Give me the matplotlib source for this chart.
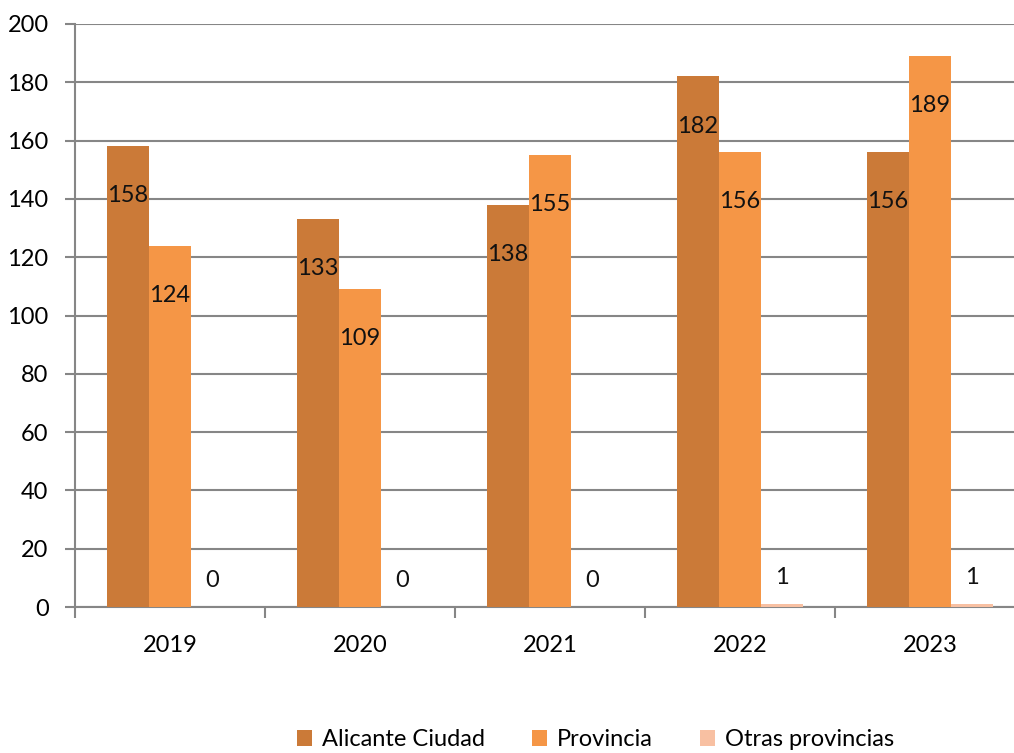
import numpy as np
import matplotlib.pyplot as plt

plt.rcParams['font.family'] = ['Lato', 'DejaVu Sans']
plt.rcParams['font.size'] = 17

# data
years = ['2019', '2020', '2021', '2022', '2023']
alicante = [158, 133, 138, 182, 156]
provincia = [124, 109, 155, 156, 189]
otras = [0, 0, 0, 1, 1]
series_names = ['Alicante Ciudad', 'Provincia', 'Otras provincias']
colors = ['#CB7A38', '#F59646', '#F8C0A2']

fig = plt.figure(figsize=(10.14, 7.53), dpi=100)
ax = fig.add_axes([75 / 1014, 146 / 753, 950 / 1014, 583 / 753])

x = np.arange(len(years))
w = 0.221
all_series = [alicante, provincia, otras]
for i, (vals, name, c) in enumerate(zip(all_series, series_names, colors)):
    pos = x + (i - 1) * w
    ax.bar(pos, vals, width=w, color=c, label=name, zorder=3)
    for xp, v in zip(pos, vals):
        # first two series: label sits inside the bar, third above it
        ly = v - 17 if i < 2 else v + 9
        ax.text(xp, ly, str(v), ha='center', va='center', fontsize=17,
                color='#111111', zorder=4)

ax.set_xlim(-0.5, len(years) - 0.5)
ax.set_ylim(0, 200)
ax.set_yticks(np.arange(0, 201, 20))
ax.yaxis.grid(True, color='#868686', linewidth=1.5, zorder=0)
ax.set_axisbelow(True)

ax.set_xticks(x)
ax.set_xticklabels(years)
ax.set_xticks(np.arange(-0.5, len(years), 1), minor=True)
ax.tick_params(axis='x', which='major', length=0, pad=20)
ax.tick_params(axis='x', which='minor', length=8, width=1.5, color='#868686')
ax.tick_params(axis='y', length=7, width=1.5, color='#868686', pad=12)

for s in ['top', 'right']:
    ax.spines[s].set_visible(False)
for s in ['left', 'bottom']:
    ax.spines[s].set_color('#868686')
    ax.spines[s].set_linewidth(1.5)

fig.legend(loc='center', bbox_to_anchor=(0.587, 0.018), ncol=3, frameon=False,
           handlelength=0.65, handleheight=0.65, handletextpad=0.4,
           columnspacing=2.0, fontsize=17)

fig.savefig('out.png', dpi=100)
